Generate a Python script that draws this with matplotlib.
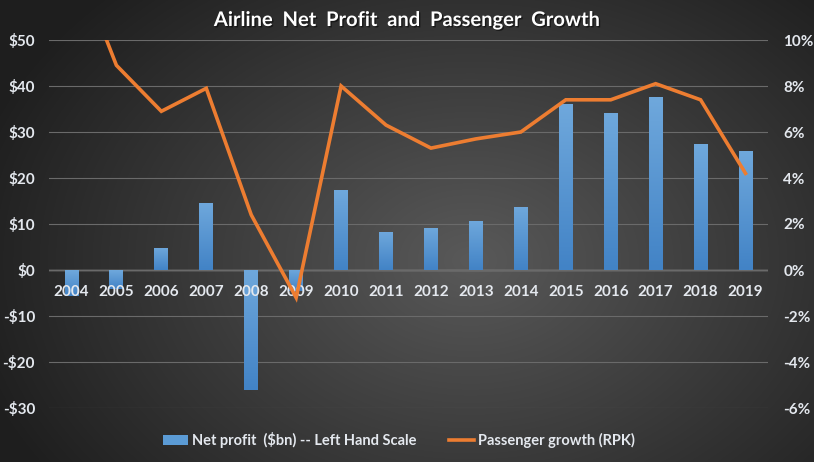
import numpy as np
import matplotlib
matplotlib.use("Agg")
import matplotlib.pyplot as plt
from matplotlib.colors import LinearSegmentedColormap
import matplotlib.patheffects as pe

years = [2004, 2005, 2006, 2007, 2008, 2009, 2010, 2011, 2012, 2013, 2014, 2015, 2016, 2017, 2018, 2019]
net_profit = [-5.6, -4.1, 4.8, 14.6, -26.1, -4.6, 17.3, 8.3, 9.2, 10.7, 13.8, 36.0, 34.2, 37.6, 27.3, 25.9]
rpk_growth = [13.9, 8.9, 6.9, 7.9, 2.4, -1.2, 8.0, 6.3, 5.3, 5.7, 6.0, 7.4, 7.4, 8.1, 7.4, 4.2]
left_ticks = [-30, -20, -10, 0, 10, 20, 30, 40, 50]
right_ticks = [-6, -4, -2, 0, 2, 4, 6, 8, 10]

TXT = '#e4e8ee'
FONT = ['Lato', 'DejaVu Sans']

fig = plt.figure(figsize=(8.14, 4.62), dpi=100)

# radial gradient background
bg = fig.add_axes([0, 0, 1, 1], zorder=-10)
yy, xx = np.mgrid[0:462, 0:814]
cx, cy = 470, 260
r = np.sqrt(((xx - cx) / 520.0) ** 2 + ((yy - cy) / 380.0) ** 2)
r = np.clip(r, 0, 1)
bg_cmap = LinearSegmentedColormap.from_list('bg', ['#595959', '#1e1e1e'])
bg.imshow(r, cmap=bg_cmap, aspect='auto', extent=[0, 814, 462, 0], vmin=0, vmax=1)
bg.set_axis_off()

ax = fig.add_axes([49 / 814, 1 - 408 / 462, (768 - 49) / 814, 368 / 462])
ax.patch.set_alpha(0)
x = np.arange(len(years))
bars = ax.bar(x, net_profit, width=0.31, color='#5b9bd5', zorder=2,
              label='Net profit  ($bn) -- Left Hand Scale')
# gradient fill on bars
grad = np.linspace(0, 1, 100).reshape(-1, 1)
bar_cmap = LinearSegmentedColormap.from_list('bar', ['#6fa8dc', '#4283c6'])
for b in bars:
    bx, by = b.get_x(), b.get_y()
    bw, bh = b.get_width(), b.get_height()
    y0, y1 = min(by, by + bh), max(by, by + bh)
    im = ax.imshow(grad, cmap=bar_cmap, aspect='auto', extent=[bx, bx + bw, y0, y1],
                   origin='upper', zorder=2.1)
    im.set_clip_path(b)
ax.set_xlim(-0.5, len(years) - 0.5)
ax.set_ylim(-30, 50)
ax.set_yticks(left_ticks)
ax.set_yticklabels([f'${v}' if v >= 0 else f'-${-v}' for v in left_ticks])
ax.grid(axis='y', color='#6a6a6a', linewidth=0.8, zorder=0)
ax.axhline(0, color='#a8a8a8', linewidth=1.0, zorder=1.5)
ax.set_xticks([])
for s in ax.spines.values():
    s.set_visible(False)
ax.tick_params(axis='y', length=0, pad=10, labelcolor=TXT, labelsize=11)
for lab in ax.get_yticklabels():
    lab.set_fontweight('bold')
    lab.set_family(FONT)
for xi, yr in zip(x, years):
    ax.text(xi, -4.8, str(yr), ha='center', va='center', color=TXT, fontsize=11,
            fontweight='bold', family=FONT, zorder=5)

ax2 = ax.twinx()
ax2.patch.set_alpha(0)
line, = ax2.plot(x, rpk_growth, color='#ed7d31', linewidth=2.6, solid_joinstyle='miter',
                 label='Passenger growth (RPK)', zorder=3)
ax2.set_ylim(-6, 10)
ax2.set_yticks(right_ticks)
ax2.set_yticklabels([f'{v}%' for v in right_ticks])
for s in ax2.spines.values():
    s.set_visible(False)
ax2.tick_params(axis='y', length=0, pad=11, labelcolor=TXT, labelsize=11)
for lab in ax2.get_yticklabels():
    lab.set_fontweight('bold')
    lab.set_family(FONT)

fig.text(0.5, 1 - 20 / 462, 'Airline  Net  Profit  and  Passenger  Growth', ha='center', va='center',
         color='white', fontsize=14.5, fontweight='bold', family=FONT,
         path_effects=[pe.withSimplePatchShadow(offset=(1, -1), shadow_rgbFace='black', alpha=0.5)])

leg = fig.legend(handles=[bars, line], loc='center', bbox_to_anchor=(0.49, 1 - 440 / 462), ncol=2,
                 frameon=False, columnspacing=2.2, handlelength=1.7, handletextpad=0.3,
                 prop={'family': FONT, 'weight': 'bold', 'size': 10.5})
for t in leg.get_texts():
    t.set_color(TXT)

fig.savefig('out.png', dpi=100)
